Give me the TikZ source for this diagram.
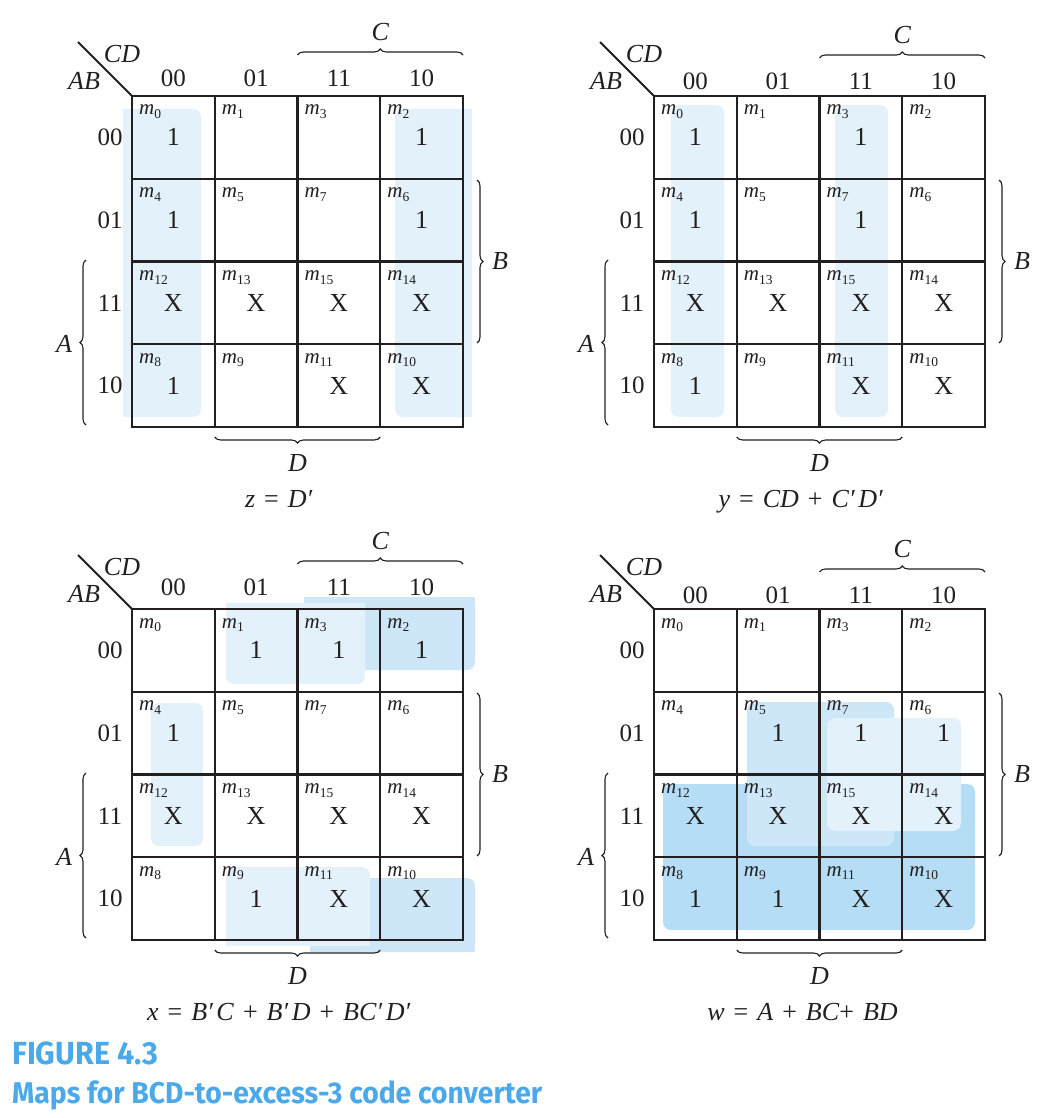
\documentclass[tikz,border=0pt]{standalone}
\usepackage{fontspec}
\setmainfont{Liberation Serif}
\newfontfamily\capfont{Fira Sans}
\usetikzlibrary{decorations.pathreplacing}
\definecolor{hlA}{HTML}{E3F1FB}
\definecolor{hlB}{HTML}{CDE7F8}
\definecolor{hlC}{HTML}{B5DDF5}
\definecolor{capblue}{HTML}{4BA9E9}
\definecolor{inkc}{HTML}{231F20}
\makeatletter
\newcommand{\ifinlist}[3]{\edef\kmtmp{\noexpand\in@{,#1,}{#2}}\kmtmp\ifin@ #3\fi}
\makeatother
\newcommand{\kmsub}[1]{\raisebox{-3.5pt}{\fontsize{13.5}{13.5}\selectfont\upshape #1}}
\newcommand{\eqs}{\hspace{9pt}}
\newcommand{\EQ}{\eqs=\eqs}
\newcommand{\PL}{\eqs+\eqs}
\newcommand{\pr}{\kern1.5pt′\kern2pt}
\tikzset{
  gridline/.style={line width=2.3pt, draw=inkc},
  diag/.style={line width=1.8pt, draw=inkc},
  brc/.style={decorate, decoration={brace, amplitude=6pt}, line width=1.1pt, draw=inkc},
  hdr/.style={inner sep=0pt, font=\fontsize{25}{25}\selectfont, text=inkc},
  cellval/.style={inner sep=0pt, font=\fontsize{26}{26}\selectfont, text=inkc},
  mlabel/.style={inner sep=0pt, anchor=base west, font=\fontsize{21}{21}\selectfont\itshape, text=inkc},
  lab/.style={inner sep=0pt, font=\fontsize{26}{26}\selectfont\itshape, text=inkc},
  eqn/.style={inner sep=0pt, anchor=base, font=\fontsize{26}{26}\selectfont, text=inkc},
  capfig/.style={inner sep=0pt, anchor=base west, font=\capfont\bfseries\fontsize{32}{32}\selectfont, text=capblue},
  capttl/.style={inner sep=0pt, anchor=base west, font=\capfont\bfseries\fontsize{30}{30}\selectfont, text=capblue},
}
% #1 ox, #2 oy, #3 shift of top labels, #4 prefix, #5 ones list, #6 equation
\newcommand{\kmap}[6]{%
\begin{scope}[shift={(#1,#2)}]
  \draw[gridline] (0,0) rectangle (331,331);
  \foreach \i in {1,2,3} {
    \draw[gridline] (\i*82.75,0) -- (\i*82.75,331);
    \draw[gridline] (0,\i*82.75) -- (331,\i*82.75);
  }
  \coordinate (#4diagA) at (-54,-54);
  \coordinate (#4diagB) at (0,0);
  \draw[diag] (#4diagA) -- (#4diagB);
  \node[lab] (#4CD) at (-10,-42) {CD};
  \node[lab] (#4AB) at (-48,-15) {AB};
  \foreach \c/\lb in {0/00,1/01,2/11,3/10} {
    \node[hdr] (#4col\c) at ({(\c+0.5)*82.75},{-14-#3}) {\lb};
  }
  \foreach \r/\lb in {0/00,1/01,2/11,3/10} {
    \node[hdr] (#4row\r) at (-22,{(\r+0.5)*82.75}) {\lb};
  }
  \foreach \r/\ab in {0/0,1/1,2/3,3/2} {
    \foreach \c/\cd in {0/0,1/1,2/3,3/2} {
      \pgfmathtruncatemacro\m{4*\ab+\cd}
      \node[mlabel] (#4m\m) at ({\c*82.75+7},{\r*82.75+19}) {m\kmsub{\m}};
      \ifnum\m>9\relax
        \node[cellval] (#4v\m) at ({(\c+0.5)*82.75},{(\r+0.5)*82.75}) {X};
      \else
        \ifinlist{\m}{#5}{\node[cellval] (#4v\m) at ({(\c+0.5)*82.75},{(\r+0.5)*82.75}) {1};}
      \fi
    }
  }
  % braces
  \coordinate (#4Cs) at (165.5,{-37-#3});
  \coordinate (#4Ce) at (331,{-37-#3});
  \draw[brc] (#4Cs) -- (#4Ce);
  \node[lab] (#4C) at (248.25,{-60-#3}) {C};
  \coordinate (#4Bs) at (345,84);
  \coordinate (#4Be) at (345,247);
  \draw[brc] (#4Bs) -- (#4Be);
  \node[lab] (#4B) at (368,165.5) {B};
  \coordinate (#4As) at (-46,329);
  \coordinate (#4Ae) at (-46,164);
  \draw[brc] (#4As) -- (#4Ae);
  \node[lab] (#4A) at (-68,248) {A};
  \coordinate (#4Ds) at (248.25,341);
  \coordinate (#4De) at (82.75,341);
  \draw[brc] (#4Ds) -- (#4De);
  \node[lab] (#4D) at (165.5,367) {D};
  \node[eqn] (#4eq) at (148.5,411) {#6};
\end{scope}}
\begin{document}
\begin{tikzpicture}[x=1pt,y=-1pt]
\useasboundingbox (0,0) rectangle (1054,1118);
\fill[white] (0,0) rectangle (1054,1118);
% ---------- highlights: top-left (z)
\begin{scope}[shift={(132,96)}]
  \fill[hlA,rounded corners=8] (-9,13) rectangle (69,321);
  \fill[hlA] (-9,13) rectangle (30,321);
  \fill[hlA,rounded corners=8] (263,13) rectangle (340,321);
  \fill[hlA] (300,13) rectangle (340,321);
\end{scope}
% ---------- highlights: top-right (y)
\begin{scope}[shift={(654,96)}]
  \fill[hlA,rounded corners=8] (17,9) rectangle (70,321);
  \fill[hlA,rounded corners=8] (181,9) rectangle (234,321);
\end{scope}
% ---------- highlights: bottom-left (x)
\begin{scope}[shift={(132,609)}]
  \fill[hlB,rounded corners=8] (172,-12) rectangle (343,61);
  \fill[hlB] (172,-12) rectangle (343,20);
  \fill[hlB,rounded corners=8] (178,269) rectangle (343,343);
  \fill[hlB] (178,300) rectangle (343,343);
  \fill[hlA,rounded corners=8] (94,-6) rectangle (233,75);
  \fill[hlA] (94,-6) rectangle (233,30);
  \fill[hlA,rounded corners=8] (94,258) rectangle (238,337);
  \fill[hlA] (94,300) rectangle (238,337);
  \fill[hlA,rounded corners=8] (19,94) rectangle (71,237);
\end{scope}
% ---------- highlights: bottom-right (w)
\begin{scope}[shift={(654,609)}]
  \fill[hlC,rounded corners=8] (9,175) rectangle (321,321);
  \fill[hlB,rounded corners=8] (93,93) rectangle (240,237);
  \fill[hlA,rounded corners=8] (173,109) rectangle (307,222);
\end{scope}
% ---------- maps
\kmap{132}{96}{4}{TL}{,0,2,4,6,8,}{\textit{z}\EQ\textit{D}\pr}
\kmap{654}{96}{1}{TR}{,0,3,4,7,8,}{\textit{y}\EQ\textit{CD}\PL\textit{C}\pr\textit{D}\pr}
\kmap{132}{609}{8}{BL}{,1,2,3,4,9,}{\textit{x}\EQ\textit{B}\pr\textit{C}\PL\textit{B}\pr\textit{D}\PL\textit{BC}\pr\textit{D}\pr}
\kmap{654}{609}{0}{BR}{,5,6,7,8,9,}{\textit{w}\EQ\textit{A}\PL\textit{BC}+\eqs\textit{BD}}
% ---------- caption
\node[capfig] (fig) at (12,1064) {\resizebox{146pt}{\height}{FIGURE 4.3}};
\node[capttl] (ttl) at (12,1103) {\resizebox{530pt}{\height}{Maps for BCD-to-excess-3 code converter}};
\end{tikzpicture}
\end{document}
